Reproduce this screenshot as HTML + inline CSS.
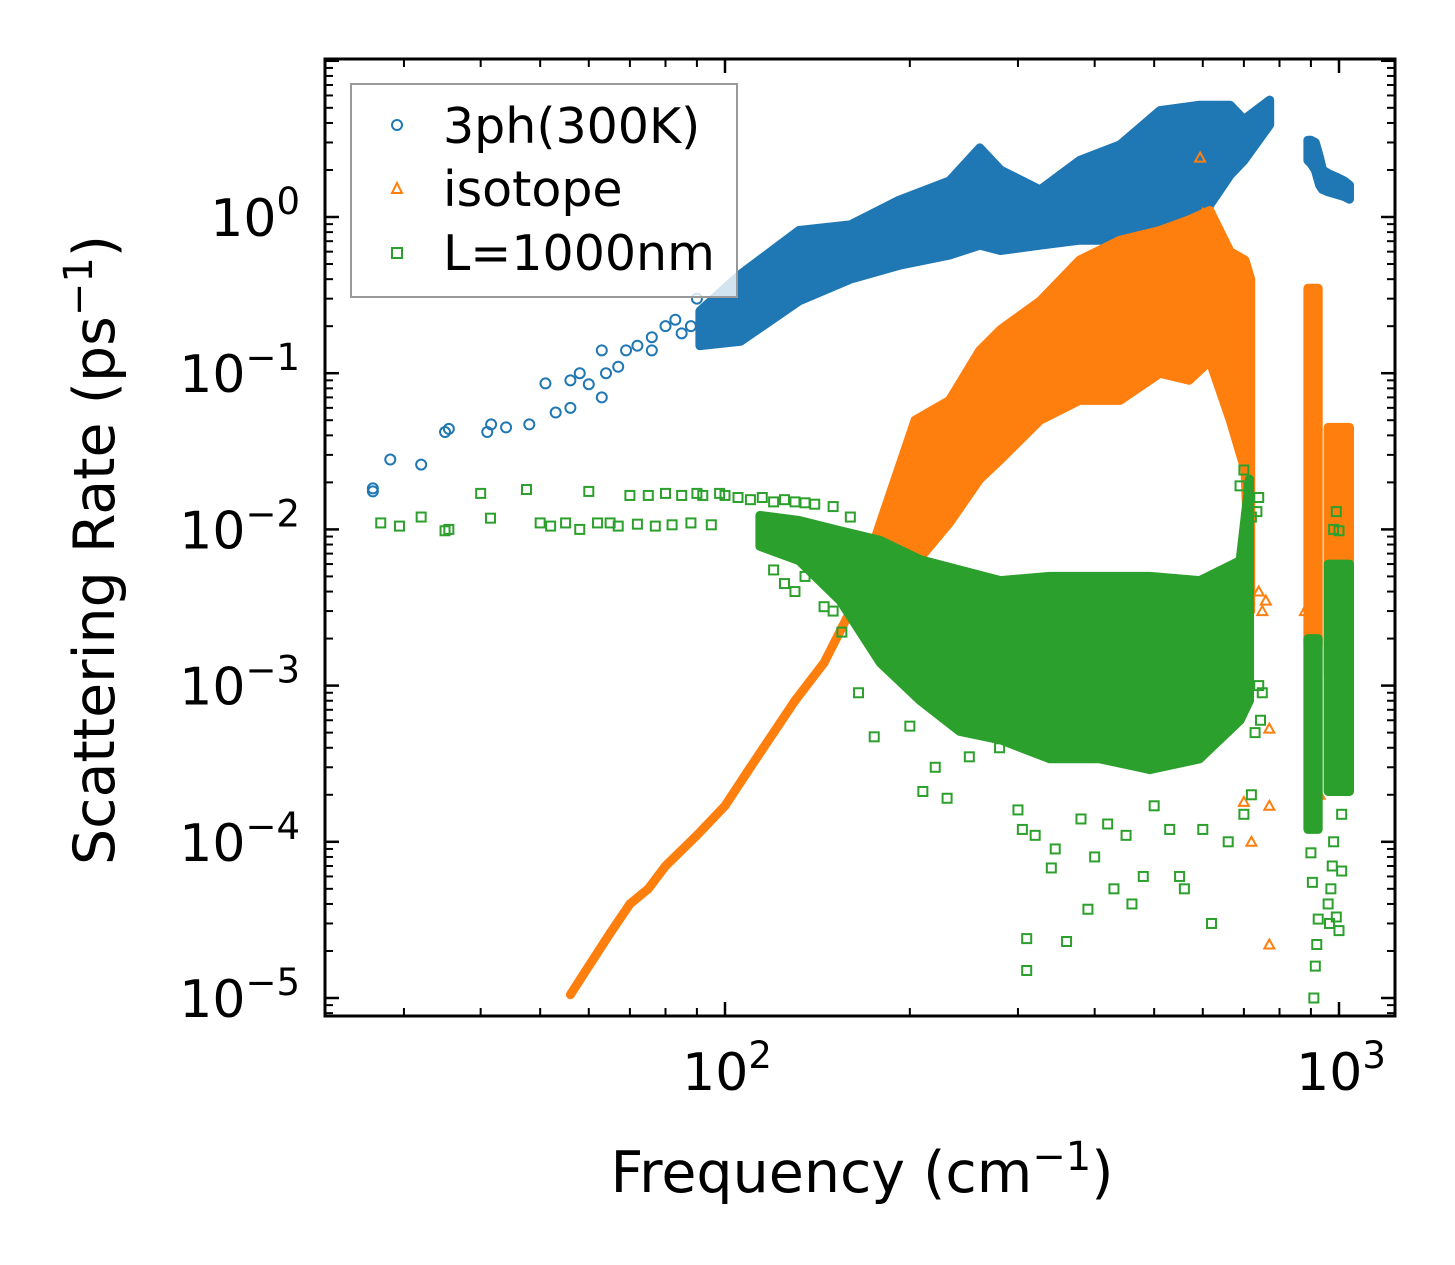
<!DOCTYPE html>
<html><head><meta charset="utf-8"><style>
html,body{margin:0;padding:0;background:#fff;}
svg{display:block;font-family:"DejaVu Sans","Liberation Sans",sans-serif;}
</style></head><body>
<svg id="chart" width="1455" height="1265" viewBox="0 0 1455 1265" xmlns="http://www.w3.org/2000/svg">
<rect width="1455" height="1265" fill="#fff"/>
<g id="plot"></g>
<g id="axes"></g>
<text x="862" y="1192" font-size="57" text-anchor="middle">Frequency (cm<tspan dy="-22" font-size="40">−1</tspan><tspan dy="22">)</tspan></text>
<text transform="translate(114,550) rotate(-90)" font-size="57" text-anchor="middle">Scattering Rate (ps<tspan dy="-22" font-size="40">−1</tspan><tspan dy="22">)</tspan></text>
<g>
<rect x="351" y="84" width="386" height="213" fill="#fff" fill-opacity="0.8" stroke="#999" stroke-width="2"/>
<circle cx="397" cy="125" r="5" fill="none" stroke="#1f77b4" stroke-width="2"/>
<text x="443" y="143" font-size="49">3ph(300K)</text>
<polygon points="397,183 392,193 402,193" fill="none" stroke="#ff7f0e" stroke-width="2"/>
<text x="443" y="206" font-size="49">isotope</text>
<rect x="392" y="248" width="10" height="10" fill="none" stroke="#2ca02c" stroke-width="2"/>
<text x="443" y="270" font-size="49">L=1000nm</text>
</g>
</svg>
<script>
// ---- data ----
const blueBandFreq=[91,106,132,160,192,232,260,281,326,378,440,511,593,665,700,771];
const blueBandLo=[0.15,0.16,0.29,0.4,0.49,0.57,0.66,0.61,0.66,0.71,0.71,0.82,0.96,1.86,2.3,3.9];
const blueBandHi=[0.25,0.43,0.82,0.89,1.28,1.7,2.77,2.0,1.49,2.3,2.9,4.8,5.2,5.2,4.2,5.6];
const blueBlobFreq=[890,900,915,930,940,960,990,1020,1040];
const blueBlobLo=[2.3,2.2,2.0,1.6,1.5,1.45,1.4,1.35,1.3];
const blueBlobHi=[3.1,3.1,3.0,2.4,2.0,1.9,1.8,1.7,1.6];
const bluePtsF=[26.7,26.7,28.5,32,35,35.5,41,41.6,44,48,51,53,56,56,58,60,63,63,64,67,69,72,76,76,80,83,85,88,90,95];
const bluePtsV=[0.0175,0.0183,0.028,0.026,0.042,0.044,0.042,0.047,0.045,0.047,0.086,0.056,0.09,0.06,0.1,0.085,0.14,0.07,0.1,0.11,0.14,0.15,0.14,0.17,0.2,0.22,0.18,0.2,0.3,0.28];

const orgLineF=[56,60,65,70,75,80,90,100,110,120,130,145,160,166];
const orgLineV=[1.05e-5,1.6e-5,2.6e-5,4e-5,5e-5,7e-5,1.1e-4,1.7e-4,3e-4,5e-4,8e-4,1.4e-3,3e-3,3.5e-3];
const orgBandFreq=[166,179,204,232,260,281,326,378,440,511,570,616,665,703,718];
const orgBandLo=[0.0025,0.0035,0.006,0.011,0.021,0.028,0.05,0.067,0.067,0.1,0.09,0.12,0.05,0.024,0.003];
const orgBandHi=[0.0045,0.011,0.05,0.067,0.14,0.19,0.29,0.53,0.71,0.82,0.96,1.1,0.6,0.53,0.4];
const orgCol1F=[890,925];
const orgCol1Lo=[0.0018,0.0018];
const orgCol1Hi=[0.35,0.35];
const orgCol2F=[960,1040];
const orgCol2Lo=[0.0012,0.0012];
const orgCol2Hi=[0.045,0.045];
const orgPtsF=[594,600,770,770,770,720,740,750,760,700,880,900,930,1000,1010];
const orgPtsV=[2.4,1.05,5.3e-4,1.7e-4,2.2e-5,1e-4,0.004,0.003,0.0035,1.8e-4,0.003,0.0009,2e-4,0.0004,0.0006];

const grnBandFreq=[114,132,154,179,208,241,281,338,408,492,593,690,715];
const grnBandLo=[0.0078,0.0063,0.0035,0.0014,8e-4,5.1e-4,4.5e-4,3.4e-4,3.4e-4,2.9e-4,3.4e-4,6e-4,8e-4];
const grnBandHi=[0.0123,0.0114,0.0098,0.0085,0.0064,0.0055,0.0047,0.005,0.005,0.005,0.0047,0.0063,0.021];
const grnCol1F=[890,925];
const grnCol1Lo=[1.2e-4,1.2e-4];
const grnCol1Hi=[0.002,0.002];
const grnCol2F=[960,1040];
const grnCol2Lo=[2.1e-4,2.1e-4];
const grnCol2Hi=[0.006,0.006];
const grnPtsF=[27.5,29.5,32,35,35.5,40,41.5,47.5,50,52,55,58,60,62,65,67,70,72,75,77,80,82,85,88,90,92,95,98,100,105,110,115,120,125,130,135,140,150,160,
120,125,130,135,145,150,155,
165,175,200,210,220,230,250,280,300,305,310,310,320,340,345,360,380,390,400,420,430,450,460,480,500,530,550,560,600,620,660,700,720,730,740,745,750,735,740,720,700,690,
910,915,920,925,905,900,960,965,970,975,980,990,1000,1010,1010,990,980,1000];
const grnPtsV=[0.011,0.0105,0.012,0.0098,0.01,0.017,0.0118,0.018,0.011,0.0105,0.011,0.01,0.0175,0.011,0.011,0.0105,0.0165,0.0108,0.0165,0.0105,0.017,0.0107,0.0165,0.011,0.017,0.0165,0.0107,0.017,0.0165,0.016,0.0155,0.016,0.015,0.0155,0.015,0.0148,0.0145,0.014,0.012,
0.0055,0.0045,0.004,0.005,0.0032,0.003,0.0022,
9e-4,4.7e-4,5.5e-4,2.1e-4,3e-4,1.9e-4,3.5e-4,4e-4,1.6e-4,1.2e-4,2.4e-5,1.5e-5,1.1e-4,6.8e-5,9e-5,2.3e-5,1.4e-4,3.7e-5,8e-5,1.3e-4,5e-5,1.1e-4,4e-5,6e-5,1.7e-4,1.2e-4,6e-5,5e-5,1.2e-4,3e-5,1e-4,1.5e-4,2e-4,5e-4,1e-3,6e-4,9e-4,0.013,0.016,0.012,0.024,0.019,
1e-5,1.6e-5,2.2e-5,3.2e-5,5.5e-5,8.5e-5,4e-5,3e-5,5e-5,7e-5,1e-4,3.3e-5,2.7e-5,6.5e-5,1.5e-4,0.013,0.01,0.0098];

const xTickVals=[100,1000];
const xTickExp=['2','3'];
const yTickVals=[1,0.1,0.01,0.001,0.0001,0.00001];
const yTickExp=['0','−1','−2','−3','−4','−5'];

// ---- scales ----
const L=325,R=1395,T=59,B=1016;
function X(f){return 725+614*(Math.log10(f)-2);}
function Y(v){return 217-156.2*Math.log10(v);}
const NS='http://www.w3.org/2000/svg';
const plot=document.getElementById('plot');
const axes=document.getElementById('axes');
function mk(tag,attrs,parent){const e=document.createElementNS(NS,tag);for(const k in attrs)e.setAttribute(k,attrs[k]);parent.appendChild(e);return e;}

const clip=mk('clipPath',{id:'cp'},document.getElementById('chart'));
mk('rect',{x:L,y:T,width:R-L,height:B-T},clip);
plot.setAttribute('clip-path','url(#cp)');

function band(F,lo,hi,color,name){
  let pts=[];
  for(let i=0;i<F.length;i++)pts.push(X(F[i]).toFixed(1)+','+Y(hi[i]).toFixed(1));
  for(let i=F.length-1;i>=0;i--)pts.push(X(F[i]).toFixed(1)+','+Y(lo[i]).toFixed(1));
  const p=mk('polygon',{points:pts.join(' '),fill:color,stroke:color,'stroke-width':9,'stroke-linejoin':'round'},plot);
  
  
}
function marker(kind,f,v,color,name){
  const x=X(f),y=Y(v);let e;
  if(kind==='c')e=mk('circle',{cx:x,cy:y,r:5,fill:'none',stroke:color,'stroke-width':2},plot);
  else if(kind==='t')e=mk('polygon',{points:`${x},${y-5} ${x-5},${y+4} ${x+5},${y+4}`,fill:'none',stroke:color,'stroke-width':2},plot);
  else e=mk('rect',{x:x-4.5,y:y-4.5,width:9,height:9,fill:'none',stroke:color,'stroke-width':2},plot);
  
  
}
const C1='#1f77b4',C2='#ff7f0e',C3='#2ca02c';
band(blueBandFreq,blueBandLo,blueBandHi,C1,'3ph-band');
band(blueBlobFreq,blueBlobLo,blueBlobHi,C1,'3ph-high-freq-cluster');
for(let i=0;i<bluePtsF.length;i++)marker('c',bluePtsF[i],bluePtsV[i],C1,'3ph-point');
for(let i=0;i<orgLineF.length-1;i++){
  const l=mk('line',{x1:X(orgLineF[i]),y1:Y(orgLineV[i]),x2:X(orgLineF[i+1]),y2:Y(orgLineV[i+1]),stroke:C2,'stroke-width':9,'stroke-linecap':'round'},plot);
  
  
}
band(orgBandFreq,orgBandLo,orgBandHi,C2,'isotope-band');
band(orgCol1F,orgCol1Lo,orgCol1Hi,C2,'isotope-column-1');
band(orgCol2F,orgCol2Lo,orgCol2Hi,C2,'isotope-column-2');
for(let i=0;i<orgPtsF.length;i++)marker('t',orgPtsF[i],orgPtsV[i],C2,'isotope-point');
band(grnBandFreq,grnBandLo,grnBandHi,C3,'boundary-band');
band(grnCol1F,grnCol1Lo,grnCol1Hi,C3,'boundary-column-1');
band(grnCol2F,grnCol2Lo,grnCol2Hi,C3,'boundary-column-2');
for(let i=0;i<grnPtsF.length;i++)marker('s',grnPtsF[i],grnPtsV[i],C3,'boundary-point');

// ---- axes ----
const fr=mk('rect',{x:L,y:T,width:R-L,height:B-T,fill:'none',stroke:'#000','stroke-width':3},axes);


function tick(x1,y1,x2,y2,w){mk('line',{x1,y1,x2,y2,stroke:'#000','stroke-width':w},axes);}
for(let d=10;d<=1000;d*=10){for(let m=1;m<10;m++){const f=d*m;const x=X(f);if(x<L+1||x>R-1)continue;const maj=(m===1);const len=maj?14:8;tick(x,B,x,B-len,maj?2.5:2);tick(x,T,x,T+len,maj?2.5:2);}}
for(let i=0;i<xTickVals.length;i++){
  const t=mk('text',{x:X(xTickVals[i])+2,y:1090,'font-size':52,'text-anchor':'middle'},axes);
  t.textContent='10';
  const s=mk('tspan',{dy:-22,'font-size':37},t);s.textContent=xTickExp[i];
  
  
}
for(let e=-6;e<=1;e++){for(let m=1;m<10;m++){const v=m*Math.pow(10,e);const y=Y(v);if(y<T+1||y>B-1)continue;const maj=(m===1);const len=maj?14:8;tick(L,y,L+len,y,maj?2.5:2);tick(R,y,R-len,y,maj?2.5:2);}}
for(let i=0;i<yTickVals.length;i++){
  const t=mk('text',{x:300,y:Y(yTickVals[i])+19,'font-size':52,'text-anchor':'end'},axes);
  t.textContent='10';
  const s=mk('tspan',{dy:-22,'font-size':37},t);s.textContent=yTickExp[i];
  
  
}
</script>
</body></html>
